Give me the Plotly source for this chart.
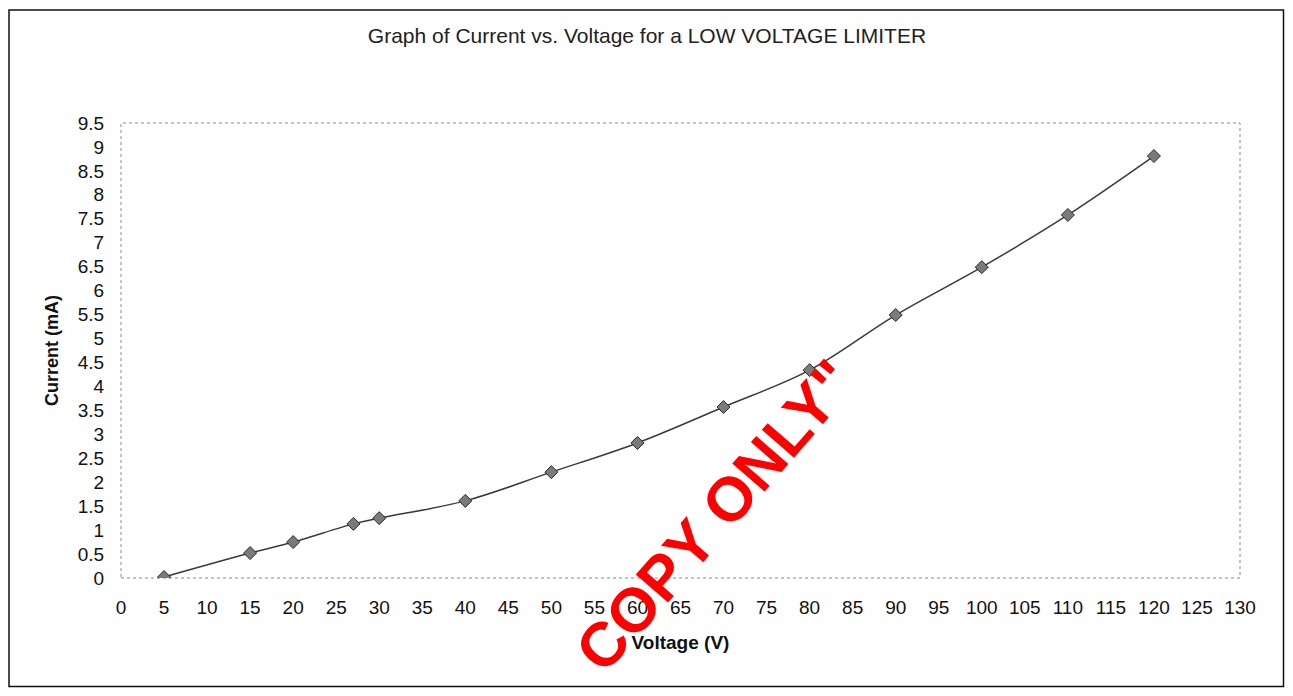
import plotly.graph_objects as go

voltage = [5, 15, 20, 27, 30, 40, 50, 60, 70, 80, 90, 100, 110, 120]
current = [0.02, 0.52, 0.75, 1.13, 1.25, 1.61, 2.21, 2.82, 3.57, 4.34, 5.49, 6.49, 7.58, 8.81]

x_ticks = list(range(0, 131, 5))
y_ticks = [i * 0.5 for i in range(0, 20)]
y_tick_text = [("%g" % v) for v in y_ticks]

FONT = "Liberation Sans, Arial, sans-serif"

# the page body has an 8px margin: figure occupies page x 8..1285, y 8..688
OX, OY = 8, 8
FW, FH = 1277, 680
PL, PR, PT, PB = 121, 1240, 123, 578
W, H = PR - PL, PB - PT


def px(xp):
    return (xp - PL) / W


def py(yp):
    return (PB - yp) / H


fig = go.Figure()
fig.add_trace(go.Scatter(
    x=voltage, y=current, mode="lines+markers",
    line=dict(color="#3a3a3a", width=1.5, shape="spline", smoothing=1.0),
    marker=dict(symbol="diamond", size=10, color="#7a7a7a",
                line=dict(color="#2a2a2a", width=1)),
    showlegend=False,
))

fig.update_layout(
    width=FW, height=FH,
    margin=dict(l=PL - OX, r=(OX + FW) - PR, t=PT - OY, b=(OY + FH) - PB),
    paper_bgcolor="white", plot_bgcolor="white",
    font=dict(family=FONT, color="#111111"),
    title=dict(text="Graph of Current vs. Voltage for a LOW VOLTAGE LIMITER",
               x=(647 - OX) / FW, xanchor="center",
               y=1 - (36 - OY) / FH, yanchor="middle",
               font=dict(size=21, family=FONT, color="#222222")),
    xaxis=dict(range=[0, 130], tickmode="array", tickvals=x_ticks,
               ticktext=[str(v) for v in x_ticks],
               showgrid=False, zeroline=False, showline=False,
               ticks="outside", ticklen=12, tickcolor="rgba(0,0,0,0)",
               tickfont=dict(size=19, family=FONT, color="#111111"),
               title=dict(text="<b>Voltage (V)</b>", standoff=18,
                          font=dict(size=19, family=FONT, color="#111111"))),
    yaxis=dict(range=[0, 9.5], tickmode="array", tickvals=y_ticks,
               ticktext=y_tick_text,
               showgrid=False, zeroline=False, showline=False,
               ticks="outside", ticklen=12, tickcolor="rgba(0,0,0,0)",
               tickfont=dict(size=19, family=FONT, color="#111111"),
               title=dict(text="<b>Current (mA)</b>", standoff=14,
                          font=dict(size=18, family=FONT, color="#111111"))),
)

# plot area dotted border
fig.add_shape(type="rect", xref="paper", yref="paper", x0=0, x1=1, y0=0, y1=1,
              line=dict(color="#888888", width=1, dash="dot"), layer="below")

# outer chart border
fig.add_shape(type="rect", xref="paper", yref="paper",
              x0=px(OX + 1), x1=px(OX + FW - 1.5), y0=py(OY + FH - 1.5), y1=py(10),
              line=dict(color="#111111", width=1.5), layer="below")

# watermark
fig.add_annotation(text="<b>COPY ONLY\"</b>", xref="paper", yref="paper",
                   x=px(715), y=py(515), xanchor="center", yanchor="middle",
                   showarrow=False, textangle=-49,
                   font=dict(size=62, family=FONT, color="#ff0000"))

fig.write_html("out.html")
